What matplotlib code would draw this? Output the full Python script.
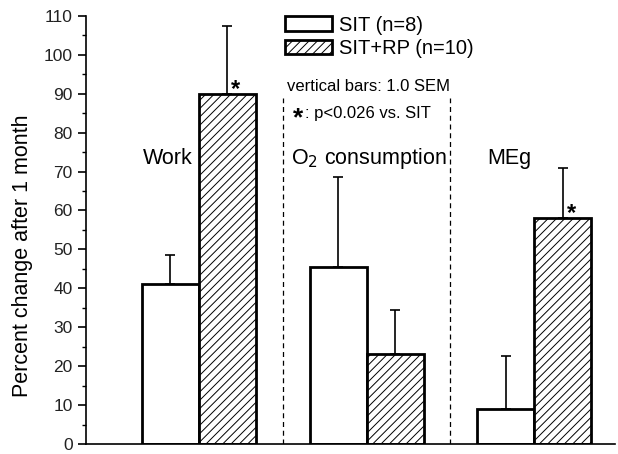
import matplotlib.pyplot as plt
from matplotlib.ticker import MultipleLocator

plt.rcParams['font.family'] = ['Liberation Sans', 'DejaVu Sans']
plt.rcParams['hatch.linewidth'] = 0.7
plt.rcParams['hatch.color'] = '#444444'

# data
groups = ["Work", "O$_2$ consumption", "MEg"]
sit = [41, 45.5, 9]
sit_err = [7.5, 23, 13.5]
sitrp = [90, 23, 58]
sitrp_err = [17.5, 11.5, 13]
series_labels = ["SIT (n=8)", "SIT+RP (n=10)"]
signif = [True, False, True]

fig = plt.figure(figsize=(6.18, 4.54), dpi=100)
ax = fig.add_axes([0.139, 0.022, 0.856, 0.943])

x = [1, 2, 3]
w = 0.34
xs_sit = [i - w / 2 for i in x]
xs_rp = [i + w / 2 for i in x]

b1 = ax.bar(xs_sit, sit, w, color='white', edgecolor='black', linewidth=2, label=series_labels[0])
b2 = ax.bar(xs_rp, sitrp, w, color='white', edgecolor='black', linewidth=2, hatch='////', label=series_labels[1])
ax.errorbar(xs_sit, sit, yerr=[[0] * 3, sit_err], fmt='none', ecolor='black', elinewidth=1.2, capsize=3.6, capthick=1.2)
ax.errorbar(xs_rp, sitrp, yerr=[[0] * 3, sitrp_err], fmt='none', ecolor='black', elinewidth=1.2, capsize=3.6, capthick=1.2)

# significance stars
for xi, v, s in zip(xs_rp, sitrp, signif):
    if s:
        ax.text(xi + 0.05, v - 1.8, "*", fontsize=17, fontweight='bold', ha='center', va='bottom')

# group labels
ax.text(0.965, 73.4, groups[0], fontsize=15.5, ha='right', va='center')
ax.text(2.015, 73.4, groups[1], fontsize=15.5, ha='center', va='center')
ax.text(2.985, 73.4, groups[2], fontsize=15.5, ha='right', va='center')

# dashed separators
for xd in [1.5, 2.5]:
    ax.plot([xd, xd], [0, 89], color='black', lw=0.9, ls=(0, (4, 3)))

ax.text(2.013, 91.8, "vertical bars: 1.0 SEM", fontsize=12, ha='center', va='center')
ax.text(1.59, 83.6, "*", fontsize=19, fontweight='bold', ha='center', va='center')
ax.text(1.632, 84.9, ": p<0.026 vs. SIT", fontsize=12, ha='left', va='center')

ax.legend(handles=[b1, b2], loc='upper left', bbox_to_anchor=(0.376, 1.0), frameon=False,
          fontsize=14.5, handlelength=2.35, handleheight=0.75, handletextpad=0.35, labelspacing=0.2,
          borderaxespad=0, borderpad=0)

ax.set_xlim(0.327, 3.48)
ax.set_ylim(0, 110)
ax.yaxis.set_major_locator(MultipleLocator(10))
ax.yaxis.set_minor_locator(MultipleLocator(5))
ax.set_xticks([])
ax.spines['top'].set_visible(False)
ax.spines['right'].set_visible(False)
ax.spines['left'].set_linewidth(1.2)
ax.spines['bottom'].set_linewidth(1.2)
ax.tick_params(axis='y', which='major', length=6, width=1.2, labelsize=12.5, labelcolor='#222222')
ax.tick_params(axis='y', which='minor', length=3, width=1.0)
ax.set_ylabel("Percent change after 1 month", fontsize=15.5)
ax.yaxis.set_label_coords(-0.1, 0.44)

fig.savefig("out.png", dpi=100)
